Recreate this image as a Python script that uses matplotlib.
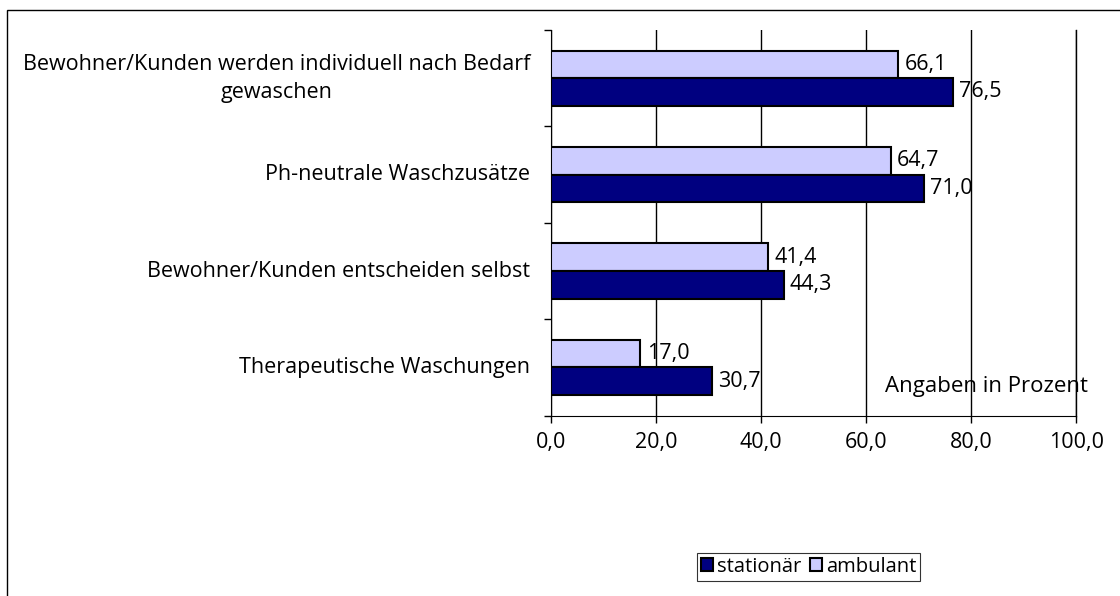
import matplotlib.pyplot as plt
import matplotlib.patches as mpatches
import matplotlib.transforms as mtransforms
import numpy as np

# categories listed top to bottom
categories = ['Bewohner/Kunden werden individuell nach Bedarf\ngewaschen',
              'Ph-neutrale Waschzusätze',
              'Bewohner/Kunden entscheiden selbst',
              'Therapeutische Waschungen']
stationaer = [76.5, 71.0, 44.3, 30.7]
ambulant = [66.1, 64.7, 41.4, 17.0]
x_ticks = [0, 20, 40, 60, 80, 100]

plt.rcParams['font.family'] = ['Open Sans', 'DejaVu Sans']
fs = 15.5

fig = plt.figure(figsize=(11.2, 5.96), dpi=100)
ax = fig.add_axes([0.492, 0.3025, 0.4688, 0.6472])

n = len(categories)
pos = np.arange(n)[::-1]
h = 0.286
col_st = '#000080'
col_amb = '#CCCCFF'

ax.barh(pos + h / 2, ambulant, height=h, color=col_amb, edgecolor='black',
        linewidth=1.5, label='ambulant', zorder=3)
ax.barh(pos - h / 2, stationaer, height=h, color=col_st, edgecolor='black',
        linewidth=1.5, label='stationär', zorder=3)

# value labels
for p, v in zip(pos, ambulant):
    ax.text(v + 1.2, p + h / 2, f'{v:.1f}'.replace('.', ','), va='center',
            ha='left', fontsize=fs, zorder=4)
for p, v in zip(pos, stationaer):
    ax.text(v + 1.2, p - h / 2, f'{v:.1f}'.replace('.', ','), va='center',
            ha='left', fontsize=fs, zorder=4)

ax.set_xlim(0, 100)
ax.set_ylim(-0.5, n - 0.5)
ax.set_xticks(x_ticks)
ax.set_xticklabels([f'{t:.1f}'.replace('.', ',') for t in x_ticks])
ax.tick_params(axis='x', length=5, width=1, pad=7, labelsize=fs)

# group boundary ticks
ax.set_yticks(np.arange(-0.5, n, 1.0))
ax.set_yticklabels([])
ax.tick_params(axis='y', which='major', length=5, width=1)

# category labels, right aligned left of the axis
trans = mtransforms.blended_transform_factory(ax.transAxes, ax.transData)
for p, c in zip(pos, categories):
    ax.text(-0.04, p, c, transform=trans, ha='right', va='center',
            multialignment='center', fontsize=fs, linespacing=1.45)

ax.grid(axis='x', color='black', linewidth=1, zorder=0)
ax.spines['top'].set_visible(False)
ax.spines['right'].set_linewidth(1)

ax.text(0.829, 0.075, 'Angaben in Prozent', transform=ax.transAxes,
        ha='center', va='center', fontsize=fs + 0.5)

handles, labels = ax.get_legend_handles_labels()
leg = fig.legend(handles[::-1], labels[::-1], loc='center',
                 bbox_to_anchor=(0.722, 0.0487), ncol=2, frameon=True,
                 fancybox=False, edgecolor='black', handlelength=0.6,
                 handleheight=0.6, handletextpad=0.2, columnspacing=0.4,
                 borderpad=0.2, borderaxespad=0, fontsize=14.5)
leg.get_frame().set_linewidth(0.8)

# outer chart frame
fig.patches.append(mpatches.Rectangle((0.00625, -0.05), 1.1, 1.033,
                                      transform=fig.transFigure, fill=False,
                                      edgecolor='black', linewidth=1))

fig.savefig('out.png', dpi=100)
